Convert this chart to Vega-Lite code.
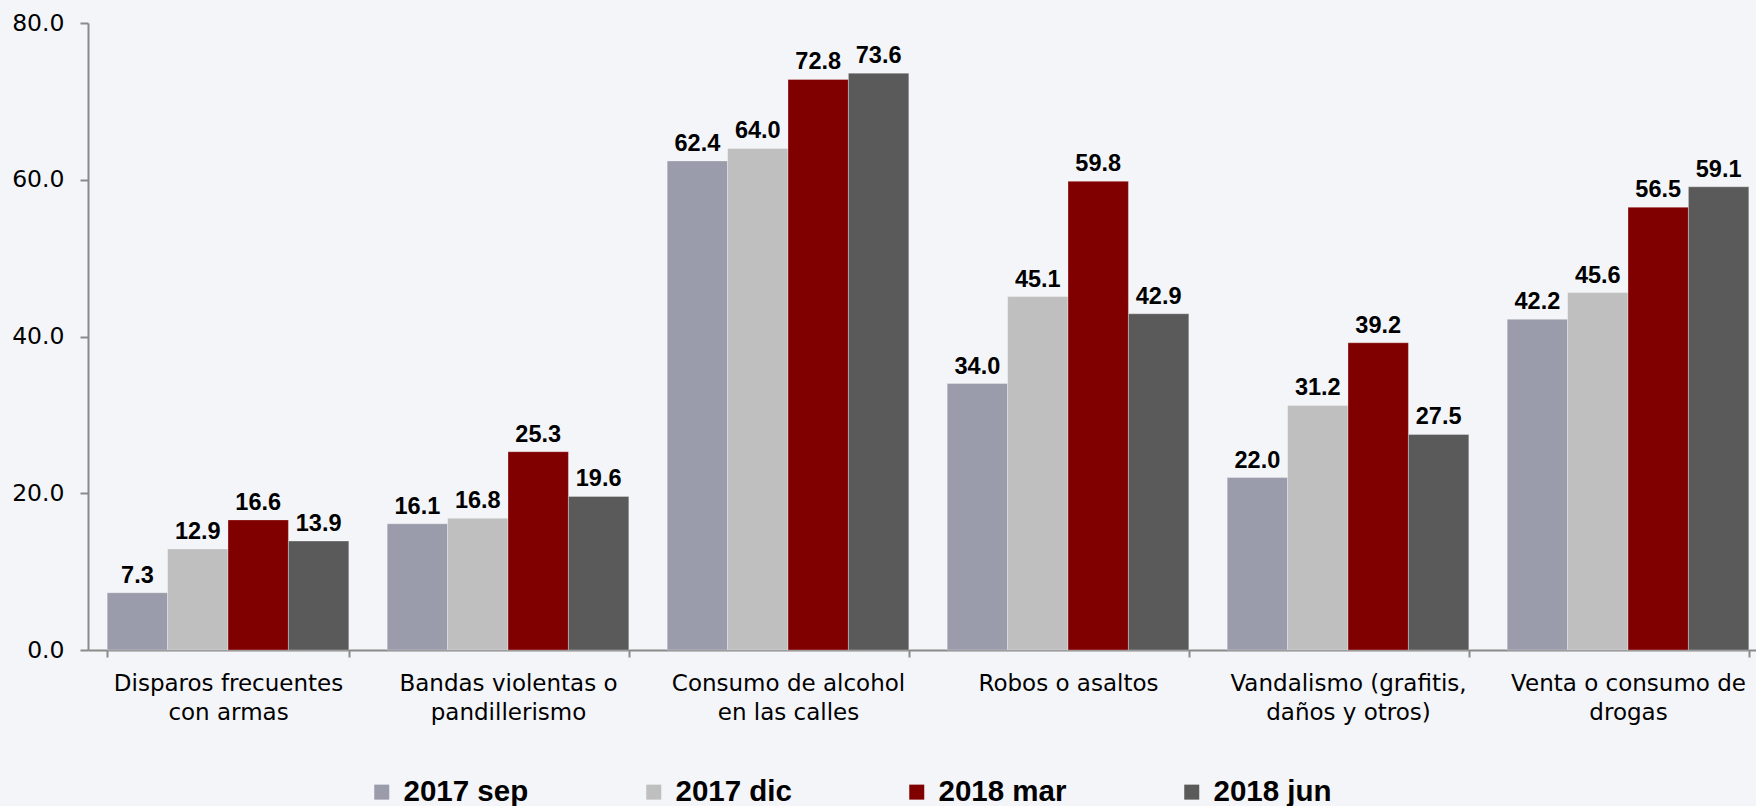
{
  "$schema": "https://vega.github.io/schema/vega-lite/v6.json",
  "autosize": {"type": "none"},
  "width": 1668,
  "height": 627,
  "padding": {"left": 88, "top": 23, "right": 0, "bottom": 156},
  "background": "#f4f5f9",
  "config": {"view": {"stroke": null}},
  "data": {
    "values": [
      {"cat": "Disparos frecuentes con armas", "period": "2017 sep", "value": 7.3},
      {"cat": "Disparos frecuentes con armas", "period": "2017 dic", "value": 12.9},
      {"cat": "Disparos frecuentes con armas", "period": "2018 mar", "value": 16.6},
      {"cat": "Disparos frecuentes con armas", "period": "2018 jun", "value": 13.9},
      {"cat": "Bandas violentas o pandillerismo", "period": "2017 sep", "value": 16.1},
      {"cat": "Bandas violentas o pandillerismo", "period": "2017 dic", "value": 16.8},
      {"cat": "Bandas violentas o pandillerismo", "period": "2018 mar", "value": 25.3},
      {"cat": "Bandas violentas o pandillerismo", "period": "2018 jun", "value": 19.6},
      {"cat": "Consumo de alcohol en las calles", "period": "2017 sep", "value": 62.4},
      {"cat": "Consumo de alcohol en las calles", "period": "2017 dic", "value": 64.0},
      {"cat": "Consumo de alcohol en las calles", "period": "2018 mar", "value": 72.8},
      {"cat": "Consumo de alcohol en las calles", "period": "2018 jun", "value": 73.6},
      {"cat": "Robos o asaltos", "period": "2017 sep", "value": 34.0},
      {"cat": "Robos o asaltos", "period": "2017 dic", "value": 45.1},
      {"cat": "Robos o asaltos", "period": "2018 mar", "value": 59.8},
      {"cat": "Robos o asaltos", "period": "2018 jun", "value": 42.9},
      {"cat": "Vandalismo (grafitis, daños y otros)", "period": "2017 sep", "value": 22.0},
      {"cat": "Vandalismo (grafitis, daños y otros)", "period": "2017 dic", "value": 31.2},
      {"cat": "Vandalismo (grafitis, daños y otros)", "period": "2018 mar", "value": 39.2},
      {"cat": "Vandalismo (grafitis, daños y otros)", "period": "2018 jun", "value": 27.5},
      {"cat": "Venta o consumo de drogas", "period": "2017 sep", "value": 42.2},
      {"cat": "Venta o consumo de drogas", "period": "2017 dic", "value": 45.6},
      {"cat": "Venta o consumo de drogas", "period": "2018 mar", "value": 56.5},
      {"cat": "Venta o consumo de drogas", "period": "2018 jun", "value": 59.1}
    ]
  },
  "encoding": {
    "x": {
      "field": "cat",
      "type": "nominal",
      "sort": null,
      "title": null,
      "scale": {"range": [0, 1680], "paddingInner": 0.137, "paddingOuter": 0.0685},
      "axis": {
        "labelAngle": 0,
        "tickBand": "extent",
        "tickSize": 7,
        "tickColor": "#8a8a8a",
        "domainColor": "#8a8a8a",
        "domainWidth": 2,
        "tickWidth": 2,
        "labelFont": "DejaVu Sans",
        "labelFontSize": 23,
        "labelColor": "#000000",
        "labelPadding": 15,
        "labelLineHeight": 29.5,
        "labelLimit": 400,
        "labelExpr": "datum.label == 'Disparos frecuentes con armas' ? ['Disparos frecuentes', 'con armas'] : datum.label == 'Bandas violentas o pandillerismo' ? ['Bandas violentas o', 'pandillerismo'] : datum.label == 'Consumo de alcohol en las calles' ? ['Consumo de alcohol', 'en las calles'] : datum.label == 'Vandalismo (grafitis, daños y otros)' ? ['Vandalismo (grafitis,', 'daños y otros)'] : datum.label == 'Venta o consumo de drogas' ? ['Venta o consumo de', 'drogas'] : datum.label"
      }
    },
    "xOffset": {"field": "period", "type": "nominal", "sort": ["2017 sep", "2017 dic", "2018 mar", "2018 jun"]},
    "y": {
      "field": "value",
      "type": "quantitative",
      "title": null,
      "scale": {"domain": [0, 80], "nice": false},
      "axis": {
        "values": [0, 20, 40, 60, 80],
        "format": ".1f",
        "grid": false,
        "tickSize": 8,
        "tickWidth": 2,
        "tickColor": "#8a8a8a",
        "domainColor": "#8a8a8a",
        "domainWidth": 2,
        "labelFont": "DejaVu Sans",
        "labelFontSize": 23.5,
        "labelColor": "#000000",
        "labelPadding": 16
      }
    }
  },
  "layer": [
    {
      "mark": {"type": "bar", "stroke": "#ffffff", "strokeOpacity": 0.3, "strokeWidth": 1},
      "encoding": {
        "color": {
          "field": "period",
          "type": "nominal",
          "sort": ["2017 sep", "2017 dic", "2018 mar", "2018 jun"],
          "scale": {"domain": ["2017 sep", "2017 dic", "2018 mar", "2018 jun"], "range": ["#9a9bab", "#bfbfbf", "#800000", "#5a5a5a"]},
          "legend": {
            "title": null,
            "orient": "none",
            "direction": "horizontal",
            "columns": 4,
            "legendX": 279,
            "legendY": 754,
            "padding": 0,
            "symbolType": "square",
            "symbolSize": 225,
            "symbolStrokeWidth": 0,
            "symbolOpacity": 1,
            "labelOffset": 7,
            "labelFont": "Liberation Sans",
            "labelFontWeight": "bold",
            "labelFontSize": 29.5,
            "labelColor": "#000000",
            "columnPadding": 110,
            "labelLimit": 300
          }
        }
      }
    },
    {
      "mark": {"type": "text", "dy": -10, "baseline": "alphabetic", "font": "Liberation Sans", "fontWeight": "bold", "fontSize": 23.5, "color": "#000000"},
      "encoding": {
        "text": {"field": "value", "type": "quantitative", "format": ".1f"}
      }
    }
  ]
}
